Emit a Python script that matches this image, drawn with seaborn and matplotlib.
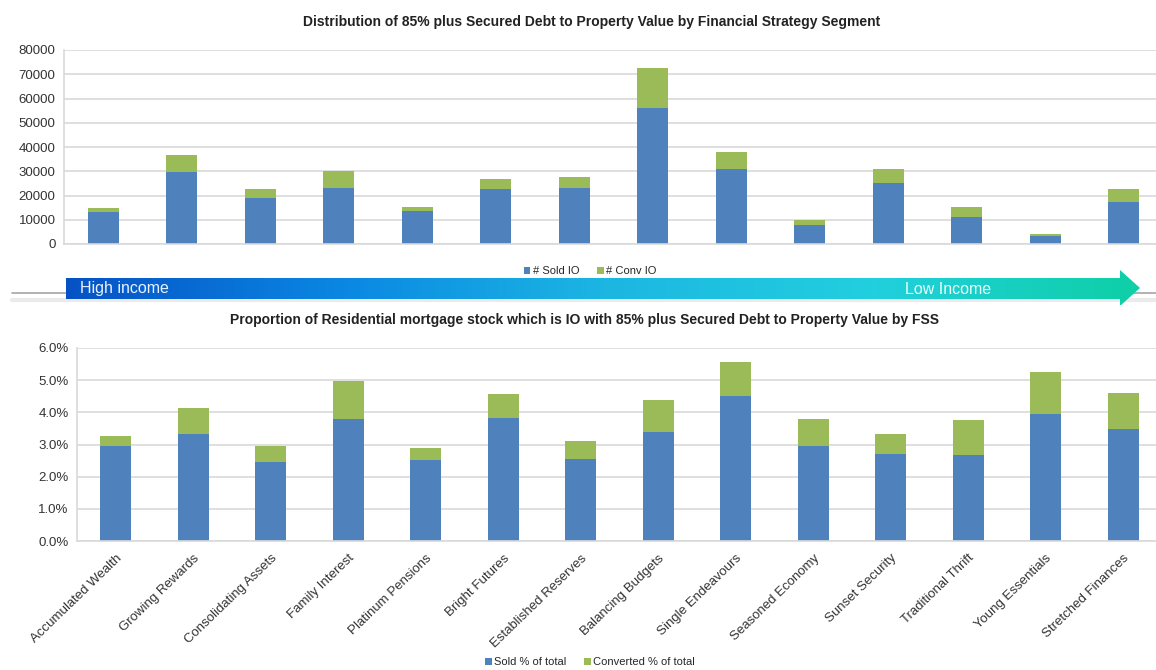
import matplotlib
matplotlib.use("Agg")
from matplotlib import pyplot as plt
from matplotlib import ticker
from matplotlib.colors import LinearSegmentedColormap
from matplotlib.patches import Polygon
import numpy as np
import pandas as pd
import seaborn as sns

segments = [
    "Accumulated Wealth", "Growing Rewards", "Consolidating Assets", "Family Interest",
    "Platinum Pensions", "Bright Futures", "Established Reserves", "Balancing Budgets",
    "Single Endeavours", "Seasoned Economy", "Sunset Security", "Traditional Thrift",
    "Young Essentials", "Stretched Finances",
]
sold_io = [13200, 29600, 18900, 22900, 13600, 22600, 22900, 56100, 30900, 7800, 25000, 11000, 3200, 17300]
conv_io = [1500, 7000, 3700, 7300, 1800, 4400, 4900, 16300, 7100, 2300, 5900, 4400, 1100, 5300]

sold_pct = [2.96, 3.34, 2.46, 3.78, 2.53, 3.83, 2.56, 3.40, 4.50, 2.96, 2.72, 2.68, 3.95, 3.48]
conv_pct = [0.30, 0.78, 0.50, 1.20, 0.35, 0.73, 0.55, 0.98, 1.08, 0.82, 0.62, 1.07, 1.29, 1.13]

top_title = "Distribution of 85% plus Secured Debt to Property Value by Financial Strategy Segment"
bottom_title = "Proportion of Residential mortgage stock which is IO with 85% plus Secured Debt to Property Value by FSS"

BLUE = "#4F81BD"
GREEN = "#9BBB59"
GRID = "#D9D9D9"

sns.set_style("white")
plt.rcParams["font.family"] = ["Liberation Sans", "DejaVu Sans"]

W, H = 1156, 670
fig = plt.figure(figsize=(W / 100, H / 100), dpi=100)


def px_axes(left, top, right, bottom):
    return fig.add_axes([left / W, 1 - bottom / H, (right - left) / W, (bottom - top) / H])


def style_axes(ax):
    ax.grid(axis="y", color=GRID, linewidth=1.2)
    ax.set_axisbelow(True)
    for s in ["top", "right"]:
        ax.spines[s].set_visible(False)
    for s in ["left", "bottom"]:
        ax.spines[s].set_color(GRID)
        ax.spines[s].set_linewidth(1.2)
    ax.tick_params(axis="y", length=4, color=GRID, labelsize=9.5, labelcolor="#333333", pad=2)
    ax.set_xlabel("")
    ax.set_ylabel("")
    if ax.get_legend() is not None:
        ax.get_legend().remove()


top_df = pd.DataFrame({"segment": segments, "sold": sold_io, "total": np.add(sold_io, conv_io)})
bot_df = pd.DataFrame({"segment": segments, "sold": sold_pct, "total": np.add(sold_pct, conv_pct)})

legend_font = {"family": ["Liberation Sans Narrow", "Liberation Sans"], "size": 8}

# top chart
ax1 = px_axes(64, 50, 1163, 244)
sns.barplot(top_df, x="segment", y="total", color=GREEN, saturation=1, width=0.4, linewidth=0, ax=ax1, label="# Conv IO")
sns.barplot(top_df, x="segment", y="sold", color=BLUE, saturation=1, width=0.4, linewidth=0, ax=ax1, label="# Sold IO")
ax1.set_ylim(0, 80000)
ax1.set_yticks(range(0, 80001, 10000))
ax1.set_xlim(-0.5, len(segments) - 0.5)
h1, l1 = ax1.get_legend_handles_labels()
style_axes(ax1)
ax1.set_xticks([])
ax1.yaxis.set_major_formatter(ticker.StrMethodFormatter("{x:.0f}"))
fig.text(592 / W, 1 - 22 / H, top_title, ha="center", va="center", fontsize=10, fontweight="bold", color="#222222")

fig.legend(h1[::-1], l1[::-1], loc="center", bbox_to_anchor=(590 / W, 1 - 271 / H), ncol=2, frameon=False,
           handlelength=0.6, handleheight=0.6, handletextpad=0.2, columnspacing=1.6, prop=legend_font)

# bottom chart
ax2 = px_axes(77, 348, 1162, 541)
sns.barplot(bot_df, x="segment", y="total", color=GREEN, saturation=1, width=0.4, linewidth=0, ax=ax2, label="Converted % of total")
sns.barplot(bot_df, x="segment", y="sold", color=BLUE, saturation=1, width=0.4, linewidth=0, ax=ax2, label="Sold % of total")
ax2.set_ylim(0, 6)
ax2.set_yticks(np.arange(0, 6.01, 1))
ax2.set_xlim(-0.5, len(segments) - 0.5)
h2, l2 = ax2.get_legend_handles_labels()
style_axes(ax2)
ax2.yaxis.set_major_formatter(ticker.StrMethodFormatter("{x:.1f}%"))
ax2.set_xticks(range(len(segments)))
ax2.set_xticklabels(segments, rotation=44, ha="right", rotation_mode="anchor", fontsize=9.5, color="#333333")
ax2.tick_params(axis="x", length=0, pad=8)
ax2.set_xticks(np.arange(0.5, len(segments) - 0.5, 1), minor=True)
ax2.tick_params(axis="x", which="minor", length=4, color=GRID)
fig.text(585 / W, 1 - 320 / H, bottom_title, ha="center", va="center", fontsize=10, fontweight="bold", color="#222222")

fig.legend(h2[::-1], l2[::-1], loc="center", bbox_to_anchor=(590 / W, 1 - 662 / H), ncol=2, frameon=False,
           handlelength=0.6, handleheight=0.6, handletextpad=0.2, columnspacing=1.6, prop=legend_font)

# income gradient arrow
bg = fig.add_axes([0, 0, 1, 1], zorder=-1)
bg.set_xlim(0, W)
bg.set_ylim(H, 0)
bg.axis("off")
bg.plot([12, W], [293, 293], color="#A6A6A6", linewidth=1.2)
bg.plot([12, W], [300, 300], color="#EBEBEB", linewidth=3)

arrow_ax = fig.add_axes([0, 0, 1, 1], zorder=5)
arrow_ax.set_xlim(0, W)
arrow_ax.set_ylim(H, 0)
arrow_ax.axis("off")
cmap = LinearSegmentedColormap.from_list("income", ["#0652C5", "#0A86E2", "#1CB6E2", "#22CFDE", "#0ECFA6"])
grad = np.linspace(0, 1, 256).reshape(1, -1)
img = arrow_ax.imshow(grad, cmap=cmap, extent=[66, 1140, 305, 270], aspect="auto")
shape = Polygon([[66, 278], [1120, 278], [1120, 270], [1140, 288], [1120, 306], [1120, 299], [66, 299]],
                closed=True, transform=arrow_ax.transData, facecolor="none", edgecolor="none")
arrow_ax.add_patch(shape)
img.set_clip_path(shape)
arrow_ax.text(80, 289, "High income", color="#E8F2FF", fontsize=11.5, va="center", ha="left",
              family=["Liberation Sans Narrow", "Liberation Sans"])
arrow_ax.text(905, 289, "Low Income", color="#E8FFFA", fontsize=11.5, va="center", ha="left",
              family=["Liberation Sans Narrow", "Liberation Sans"])

fig.savefig("out.png", dpi=100)
